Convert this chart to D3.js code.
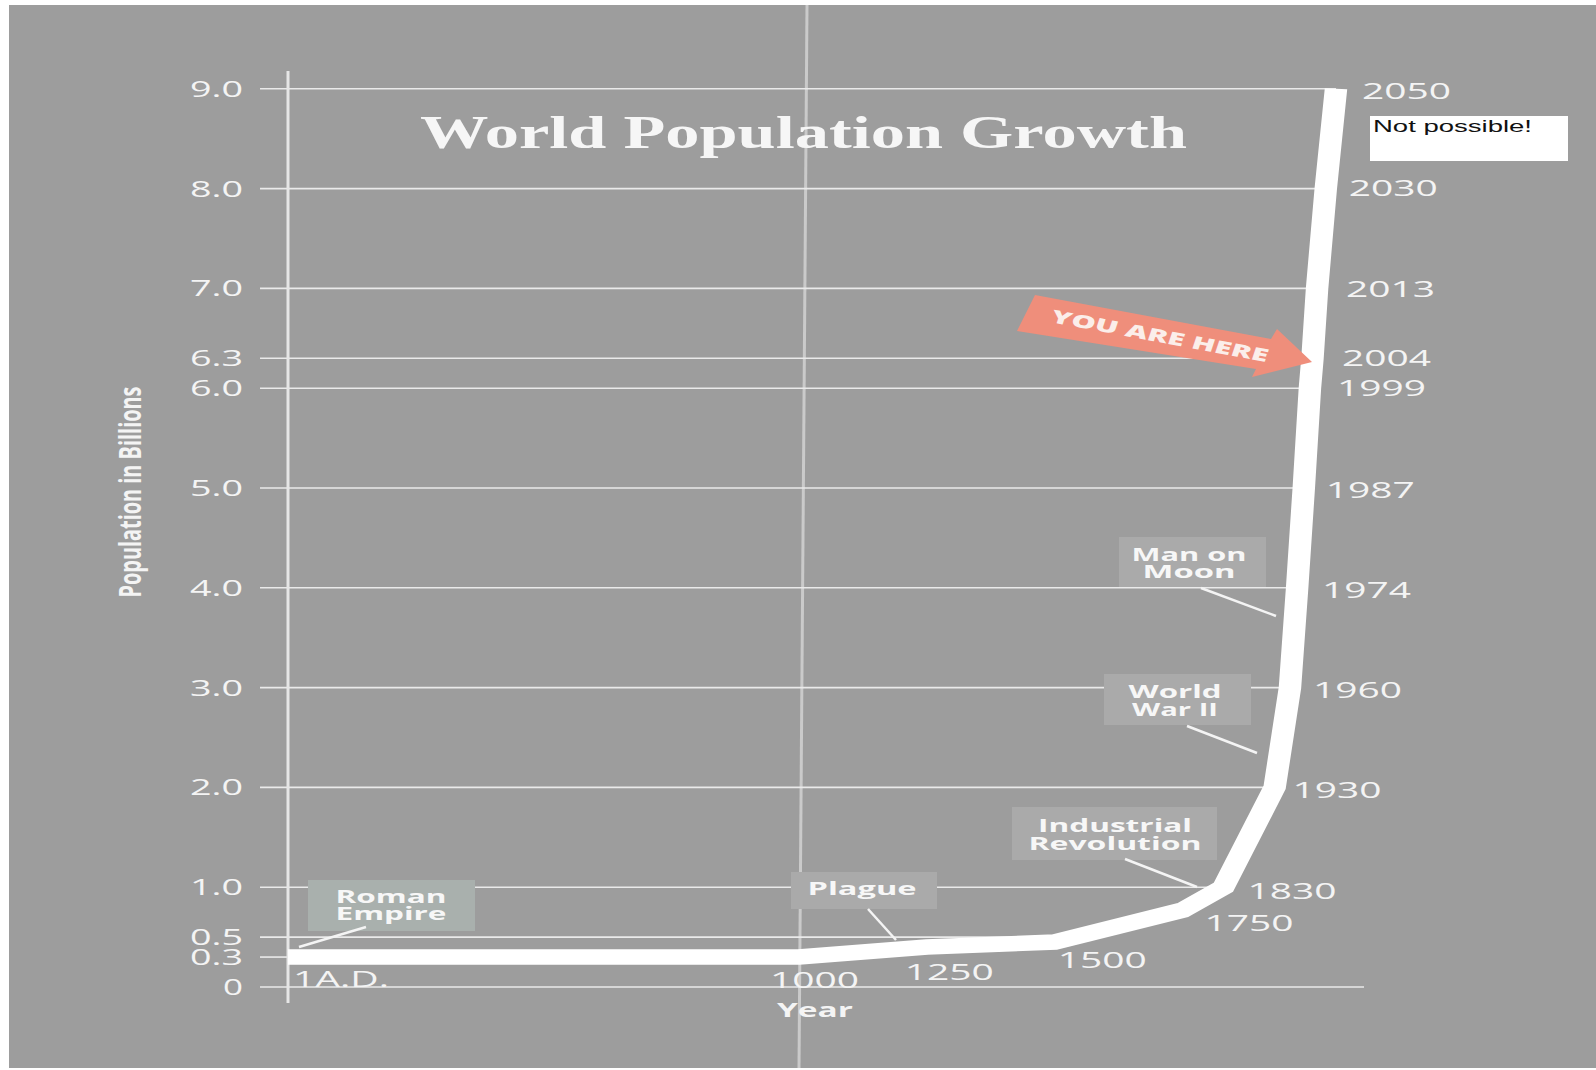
<!DOCTYPE html>
<html><head><meta charset="utf-8">
<script src="https://cdn.jsdelivr.net/npm/d3@7"></script>
<style>html,body{margin:0;padding:0;background:#fff;} svg{display:block}</style>
</head><body>
<svg id="chart" width="1596" height="1070"></svg>
<script>
// ---------- data ----------
const years       = [1, 1000, 1250, 1500, 1750, 1830, 1930, 1960, 1974, 1987, 1999, 2004, 2013, 2030, 2050];
const populations = [0.3, 0.3, 0.4, 0.45, 0.77, 1.0, 2.0, 3.0, 4.0, 5.0, 6.0, 6.3, 7.0, 8.0, 9.0];
const yearLabels  = ["1A.D.", "1000", "1250", "1500", "1750", "1830", "1930", "1960", "1974", "1987", "1999", "2004", "2013", "2030", "2050"];
const yTicks      = [0, 0.3, 0.5, 1, 2, 3, 4, 5, 6, 6.3, 7, 8, 9];
const yTickLabels = ["0", "0.3", "0.5", "1.0", "2.0", "3.0", "4.0", "5.0", "6.0", "6.3", "7.0", "8.0", "9.0"];
const eventNames  = [["Roman", "Empire"], ["Plague"], ["Industrial", "Revolution"], ["World", "War II"], ["Man on", "Moon"]];
const titleText   = "World Population Growth";
const xTitleText  = "Year";
const yTitleText  = "Population in Billions";
const arrowText   = "YOU ARE HERE";
const noteText    = "Not possible!";

// ---------- layout ----------
const W = 1596, H = 1070;
const SX = 1.45; // horizontal stretch of the scanned original
const svg = d3.select("#chart");
const x = d3.scaleLinear().domain([1, 2050]).range([288, 1336]);
const y = d3.scaleLinear().domain([0, 9]).range([987, 88.8]);
const data = years.map((yr, i) => ({year: yr, pop: populations[i], label: yearLabels[i]}));

// background
svg.append("rect").attr("width", W).attr("height", H).attr("fill", "#ffffff");
svg.append("rect").attr("x", 9).attr("y", 5).attr("width", W - 9).attr("height", H - 7).attr("fill", "#9d9d9d");

// fold line of the scan
svg.append("line").attr("x1", 807).attr("y1", 5).attr("x2", 799).attr("y2", H - 2)
  .attr("stroke", "#dadada").attr("stroke-width", 3).attr("opacity", 0.75);

// curve x where population reaches v
function curveXAt(v) {
  if (v < d3.min(populations)) return x.range()[1] + 28;
  for (let i = 0; i < data.length - 1; i++) {
    const a = data[i], b = data[i + 1];
    if (v === a.pop && i === 0) return x(a.year);
    if (v >= a.pop && v <= b.pop && b.pop > a.pop) {
      return x(a.year + (b.year - a.year) * (v - a.pop) / (b.pop - a.pop));
    }
  }
  return x.range()[1];
}

// gridlines
svg.append("g").selectAll("line").data(yTicks).join("line")
  .attr("x1", 260).attr("x2", d => curveXAt(d))
  .attr("y1", d => y(d)).attr("y2", d => y(d))
  .attr("stroke", "#eaeaea").attr("stroke-width", 1.6);

// y axis labels via d3 axis
const yAxis = d3.axisLeft(y).tickValues(yTicks).tickFormat((d, i) => yTickLabels[i]).tickSize(0).tickPadding(0);
const gy = svg.append("g").attr("transform", "translate(243,0)").call(yAxis);
gy.select(".domain").remove();
gy.selectAll("text")
  .attr("fill", "#f4f4f4").attr("font-family", "'Open Sans', sans-serif").attr("font-size", 21)
  .attr("dy", "0.36em")
  .attr("textLength", d => d === 0 ? 20 : 53).attr("lengthAdjust", "spacingAndGlyphs");

// vertical axis line
svg.append("line").attr("x1", 288).attr("x2", 288).attr("y1", 71).attr("y2", 1003)
  .attr("stroke", "#e6e6e6").attr("stroke-width", 3);

// title
svg.append("text").attr("x", 420).attr("y", 148).text(titleText)
  .attr("font-family", "'Liberation Serif', 'DejaVu Serif', serif").attr("font-weight", "bold")
  .attr("font-size", 47).attr("fill", "#f6f6f6")
  .attr("textLength", 767).attr("lengthAdjust", "spacingAndGlyphs");

// axis titles
svg.append("text").attr("x", 815).attr("y", 1017).attr("text-anchor", "middle").text(xTitleText)
  .attr("font-family", "'Open Sans', sans-serif").attr("font-weight", "bold").attr("font-size", 20)
  .attr("fill", "#f4f4f4").attr("textLength", 76).attr("lengthAdjust", "spacingAndGlyphs");
svg.append("text").attr("transform", "translate(141,492) rotate(-90)").attr("text-anchor", "middle").text(yTitleText)
  .attr("font-family", "'Open Sans', sans-serif").attr("font-weight", "bold").attr("font-size", 31)
  .attr("fill", "#f4f4f4").attr("textLength", 211).attr("lengthAdjust", "spacingAndGlyphs");

// annotation boxes
const boxLayout = [
  {x0: 308, y0: 880, x1: 475, y1: 931, cx: 391, base: [903, 920], widths: [111, 111], p: [366, 927, 299, 947], fill: "#a9b0ad"},
  {x0: 791, y0: 872, x1: 937, y1: 909, cx: 862, base: [895], widths: [109], p: [868, 909, 896, 940], fill: "#aaaaaa"},
  {x0: 1012, y0: 807, x1: 1217, y1: 860, cx: 1115, base: [832, 850], widths: [154, 173], p: [1125, 859, 1197, 887], fill: "#aaaaaa"},
  {x0: 1104, y0: 674, x1: 1251, y1: 725, cx: 1175, base: [698, 716], widths: [93, 86], p: [1187, 726, 1257, 753], fill: "#aaaaaa"},
  {x0: 1119, y0: 537, x1: 1266, y1: 587, cx: 1189, base: [561, 578], widths: [115, 93], p: [1201, 588, 1276, 616], fill: "#aaaaaa"}
];
const gEv = svg.append("g");
eventNames.forEach((lines, i) => {
  const L = boxLayout[i];
  gEv.append("rect").attr("x", L.x0).attr("y", L.y0).attr("width", L.x1 - L.x0).attr("height", L.y1 - L.y0).attr("fill", L.fill);
  lines.forEach((t, j) => {
    gEv.append("text").attr("x", L.cx).attr("y", L.base[j]).attr("text-anchor", "middle").text(t)
      .attr("font-family", "'Open Sans', sans-serif").attr("font-weight", "bold").attr("font-size", 17)
      .attr("fill", "#f7f7f7").attr("textLength", L.widths[j]).attr("lengthAdjust", "spacingAndGlyphs");
  });
  gEv.append("line").attr("x1", L.p[0]).attr("y1", L.p[1]).attr("x2", L.p[2]).attr("y2", L.p[3])
    .attr("stroke", "#f4f4f4").attr("stroke-width", 2.5);
});

// population curve (drawn in unstretched space, then stretched)
const line = d3.line().x(d => x(d.year) / SX).y(d => y(d.pop));
svg.append("g").attr("transform", `scale(${SX},1)`)
  .append("path").datum(data).attr("d", line)
  .attr("fill", "none").attr("stroke", "#ffffff").attr("stroke-width", 15.5)
  .attr("stroke-linejoin", "miter").attr("stroke-linecap", "butt");

// year labels next to the curve
const labelOffset = {1: [5, 22], 1000: [-29, 23], 1250: [-22, 25], 1500: [3, 18], 1750: [22, 13], 1830: [24, 4],
  1930: [18, 3], 1960: [23, 3], 1974: [25, 2], 1987: [22, 2], 1999: [27, 0], 2004: [29.5, 0], 2013: [29, 1],
  2030: [23, 0], 2050: [26, 2]};
svg.append("g").selectAll("text").data(data).join("text")
  .attr("x", d => x(d.year) + labelOffset[d.year][0])
  .attr("y", d => y(d.pop) + labelOffset[d.year][1] + 7.8)
  .text(d => d.label)
  .attr("font-family", "'Open Sans', sans-serif").attr("font-size", 22).attr("fill", "#f4f4f4")
  .attr("textLength", d => d.label.length === 4 ? 89 : 96).attr("lengthAdjust", "spacingAndGlyphs");

// YOU ARE HERE arrow
const arrowPts = [[1035, 295], [1271, 339], [1277, 329], [1312, 362], [1252, 377], [1256, 369], [1017, 331]];
svg.append("polygon").attr("points", arrowPts.map(p => p.join(",")).join(" ")).attr("fill", "#ef8e7b");
svg.append("text").attr("transform", "translate(1158,342) rotate(10.5) skewX(-8)").attr("text-anchor", "middle").text(arrowText)
  .attr("font-family", "'Open Sans', sans-serif").attr("font-weight", "800").attr("font-size", 18)
  .attr("fill", "#fbeeea").attr("textLength", 220).attr("lengthAdjust", "spacingAndGlyphs");

// note box
svg.append("rect").attr("x", 1370).attr("y", 116).attr("width", 198).attr("height", 45).attr("fill", "#ffffff");
svg.append("text").attr("x", 1373).attr("y", 132).text(noteText)
  .attr("font-family", "'Liberation Sans', Arial, sans-serif").attr("font-size", 16.5).attr("fill", "#111")
  .attr("textLength", 159).attr("lengthAdjust", "spacingAndGlyphs");
</script>
</body></html>
